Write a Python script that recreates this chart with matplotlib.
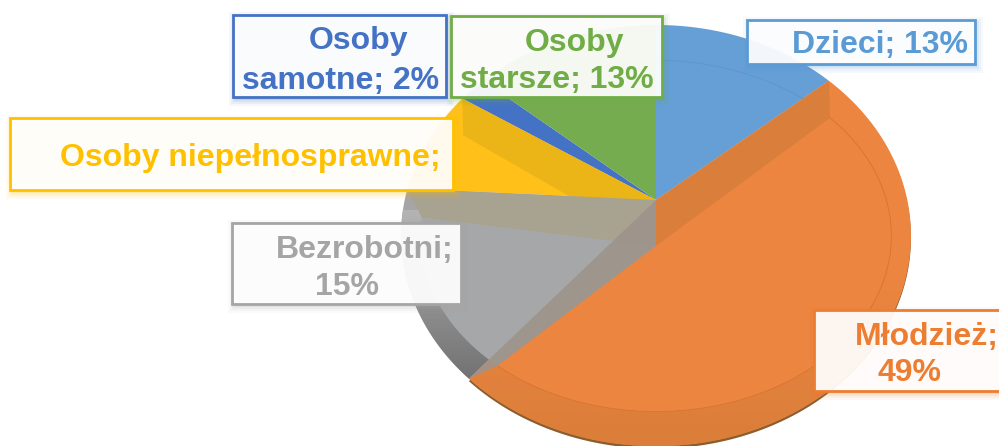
import numpy as np
import matplotlib
matplotlib.use('Agg')
import matplotlib.pyplot as plt
from matplotlib.colors import LinearSegmentedColormap
from matplotlib.patches import Polygon, Rectangle

categories = ['Dzieci', 'Młodzież', 'Bezrobotni', 'Osoby niepełnosprawne', 'Osoby samotne', 'Osoby starsze']
values = [13, 49, 15, 8, 2, 13]
colors = ['#659FD6', '#EB8540', '#A5A5A5', '#FFC119', '#4472C4', '#75AC50']
border_colors = ['#5B9BD5', '#ED7D31', '#A5A5A5', '#FFC000', '#4472C4', '#70AD47']

label_lines = [['Dzieci; 13%'], ['Młodzież;', '49%'], ['Bezrobotni;', '15%'],
               ['Osoby niepełnosprawne;'], ['Osoby', 'samotne; 2%'], ['Osoby', 'starsze; 13%']]
# box x0, y0, x1, y1 in pixels
boxes = [(747, 20, 975, 64), (814, 310, 1003, 391), (232, 223, 461, 304),
         (10, 118, 453, 190), (233, 15, 446, 97), (451, 16, 662, 97)]
# centre of every text line
line_pos = [[(880, 45)], [(927, 337), (910, 373)], [(365, 250), (347, 287)],
            [(250, 158)], [(358, 41), (341, 81)], [(574, 43), (557, 80)]]

W, H = 999, 446
CX = 656
TOP_APEX = 200
LOW_APEX = 246


def rim(share):
    # point on the outer edge, share in percent clockwise from the top
    t = np.radians(np.asarray(share) * 3.6)
    t = t + np.radians(4) * np.sin(t)
    k = 0.169
    w = 1 + k * np.cos(t)
    return np.column_stack([CX + 251.3 * np.sin(t) / w, TOP_APEX - 204.6 * np.cos(t) / w])


def inner(share):
    t = np.radians(np.asarray(share) * 3.6)
    t = t - np.radians(2) * np.sin(t)
    k = -0.057
    w = 1 + k * np.cos(t)
    return np.column_stack([CX + 235 * np.sin(t) / w, LOW_APEX - 175 * np.cos(t) / w])


def sweep(a, b):
    return np.linspace(a, b, 120)


def wall(ax, share, color, alpha=1.0, z=4):
    pts = np.vstack([[[CX, TOP_APEX]], rim([share]), inner([share]), [[CX, LOW_APEX]]])
    ax.add_patch(Polygon(pts, closed=True, fc=color, ec='none', alpha=alpha, zorder=z))


def gradient(ax, patch, c0, c1, y0, y1, z):
    cmap = LinearSegmentedColormap.from_list('g', [c0, c1])
    img = ax.imshow(np.linspace(0, 1, 200)[:, None], cmap=cmap, extent=(0, W, y1, y0),
                    aspect='auto', zorder=z)
    img.set_clip_path(patch)


fig = plt.figure(figsize=(W / 100, H / 100), dpi=100)
ax = fig.add_axes([0, 0, 1, 1])
plt.rcParams['font.family'] = ['Liberation Sans', 'DejaVu Sans']

edges = np.cumsum([0] + values)

# dark edge under the big slice
under = rim(sweep(edges[1], edges[2])) + [0, 2.5]
ax.add_patch(Polygon(under, closed=True, fc='#8A5E30', ec='none', zorder=1))

for i in range(len(values)):
    pts = np.vstack([[[CX, TOP_APEX]], rim(sweep(edges[i], edges[i + 1]))])
    p = Polygon(pts, closed=True, fc=colors[i], ec='none', zorder=2)
    ax.add_patch(p)
    if categories[i] == 'Młodzież':
        gradient(ax, p, '#EB8540', '#DA7E3A', 280, 450, 2.1)
    if categories[i] == 'Bezrobotni':
        gradient(ax, p, '#B4B4B4', '#707070', 210, 385, 2.1)

# floor of the grey slice
grey = np.vstack([[[CX, LOW_APEX]], inner(sweep(edges[2], edges[3]))])
ax.add_patch(Polygon(grey, closed=True, fc='#A6A7A8', ec='none', zorder=3))

# cut faces
wall(ax, edges[4], '#EBB417', z=4)
wall(ax, edges[3], '#A8A291', z=5)
wall(ax, edges[2], '#9E938B', alpha=0.9, z=6)
wall(ax, edges[1], '#D97E3B', z=6)

# floor of the big slice
face = np.vstack([[[CX, LOW_APEX]], inner(sweep(edges[1], edges[2]))])
ax.add_patch(Polygon(face, closed=True, fc='#EB8540', ec='none', zorder=7))
arc = inner(sweep(edges[1], edges[2]))
ax.plot(arc[:, 0], arc[:, 1], color='#D5752F', lw=0.6, zorder=8)
arc = inner(sweep(0, edges[1]))
ax.plot(arc[:, 0], arc[:, 1], color='#5A94CB', lw=0.5, zorder=3)

for i in range(len(values)):
    x0, y0, x1, y1 = boxes[i]
    for grow, a in [(6, 0.05), (4, 0.07), (2, 0.1), (0, 0.14)]:
        ax.add_patch(Rectangle((x0 - grow + 2, y0 - grow + 3), x1 - x0 + 2 * grow, y1 - y0 + 2 * grow,
                               fc=border_colors[i], ec='none', alpha=a, zorder=9 + i * 0.1))
    ax.add_patch(Rectangle((x0, y0), x1 - x0, y1 - y0, fc='white', ec='none', alpha=0.93,
                           zorder=9.01 + i * 0.1))
    ax.add_patch(Rectangle((x0, y0), x1 - x0, y1 - y0, fc='none', ec=border_colors[i], lw=2,
                           zorder=9.02 + i * 0.1))
    for line, pos in zip(label_lines[i], line_pos[i]):
        ax.text(pos[0], pos[1], line, color=border_colors[i], fontsize=23, fontweight='bold',
                ha='center', va='center', zorder=9.03 + i * 0.1)

ax.set_xlim(0, W)
ax.set_ylim(H, 0)
ax.axis('off')
fig.savefig('out.png', dpi=100)
